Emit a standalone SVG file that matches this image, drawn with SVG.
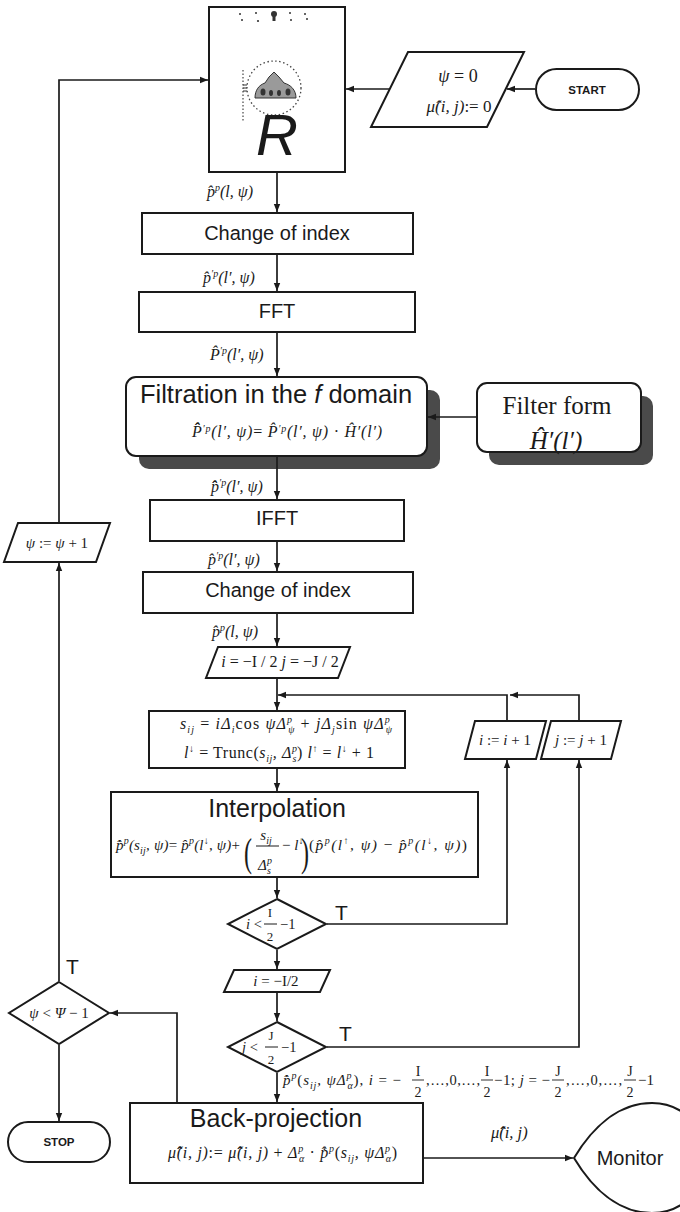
<svg xmlns="http://www.w3.org/2000/svg" width="680" height="1212" viewBox="0 0 680 1212">
<style>
  .bx { fill: #fff; stroke: #1a1a1a; stroke-width: 2; }
  .sh { fill: #4a4a4a; stroke: none; }
  .ln { fill: none; stroke: #1a1a1a; stroke-width: 1.7; }
  .s  { font-family: "Liberation Sans", Arial, sans-serif; fill: #1a1a1a; }
  .sb { font-family: "Liberation Sans", Arial, sans-serif; font-weight: bold; fill: #1a1a1a; }
  .m  { font-family: "Liberation Serif", "Times New Roman", serif; font-style: italic; fill: #1a1a1a; }
  .rm { font-family: "Liberation Serif", "Times New Roman", serif; font-style: normal; fill: #1a1a1a; }
  .up { font-style: normal; }
  .sm { font-size: 10px; }
</style>
<defs>
  <marker id="ah" markerWidth="9" markerHeight="8" refX="8" refY="4" orient="auto" markerUnits="userSpaceOnUse">
    <path d="M0,0.8 L8,4 L0,7.2 Z" fill="#1a1a1a"/>
  </marker>
</defs>
<rect width="680" height="1212" fill="#fff"/>

<!-- projection acquisition -->
<g id="scanner">
  <rect class="bx" x="209" y="7" width="136" height="165"/>
  <g fill="#333">
    <circle cx="240" cy="14" r="1"/><circle cx="242" cy="20" r="1"/>
    <circle cx="256" cy="13" r="1"/><circle cx="258" cy="21" r="1.1"/>
    <circle cx="290" cy="13" r="1"/><circle cx="291" cy="20" r="1"/>
    <circle cx="305" cy="14" r="1"/><circle cx="307" cy="19" r="1"/>
    <circle cx="274" cy="14" r="3"/><rect x="272.5" y="14" width="3" height="7"/>
  </g>
  <circle cx="274" cy="88" r="27" fill="none" stroke="#444" stroke-width="1.3" stroke-dasharray="1.5 2.5"/>
  <path d="M255,98 C255,90 259,85 265,83 L269,77 L274,72 L279,77 L284,83 C291,85 296,90 296,98 Z" fill="#9a9a9a" stroke="#333" stroke-width="1"/>
  <g fill="#333">
    <ellipse cx="263" cy="92" rx="2.5" ry="3.5"/><ellipse cx="271" cy="93" rx="2" ry="3"/>
    <ellipse cx="279" cy="93" rx="2" ry="3"/><ellipse cx="288" cy="92" rx="2.5" ry="3.5"/>
  </g>
  <line x1="243" y1="70" x2="243" y2="121" stroke="#444" stroke-width="1.2" stroke-dasharray="1.5 2"/>
  <path d="M243,85 h4 M243,88 h4 M243,91 h4" stroke="#333" stroke-width="1"/>
  <text class="s" x="277" y="155" font-size="58" font-style="italic" text-anchor="middle">R</text>
</g>

<g id="start">
  <rect class="bx" x="536" y="69" width="103" height="41" rx="20.5"/>
  <text class="sb" x="587" y="93.5" font-size="11.5" text-anchor="middle">START</text>
</g>

<g id="init">
  <polygon class="bx" points="408,52 524,52 487,127 371,127"/>
  <text class="m" x="458" y="82" font-size="18" text-anchor="middle">ψ <tspan class="up">= 0</tspan></text>
  <text class="m" x="459" y="112" font-size="17" text-anchor="middle">μ&#x302;(i, j)<tspan class="up">:= 0</tspan></text>
</g>

<g id="lbl-p">
  <text class="m" x="207" y="197" font-size="16">p&#x302;<tspan class="sm" dy="-6">p</tspan><tspan dy="6">(l, ψ)</tspan></text>
</g>

<g id="index1">
  <rect class="bx" x="142" y="213" width="271" height="41"/>
  <text class="s" x="277" y="240" font-size="20" text-anchor="middle">Change of index</text>
</g>

<g id="lbl-p2">
  <text class="m" x="203" y="283" font-size="16">p&#x302;<tspan class="sm" dy="-6">′p</tspan><tspan dy="6">(l′, ψ)</tspan></text>
</g>

<g id="fft">
  <rect class="bx" x="139" y="292" width="276" height="40"/>
  <text class="s" x="277" y="318" font-size="20" text-anchor="middle">FFT</text>
</g>

<g id="lbl-P">
  <text class="m" x="210" y="360" font-size="16">P&#x302;<tspan class="sm" dy="-6">′p</tspan><tspan dy="6">(l′, ψ)</tspan></text>
</g>

<g id="filtration">
  <rect class="sh" x="139" y="390" width="301" height="79" rx="10"/>
  <rect class="bx" x="126" y="377" width="301" height="79" rx="10"/>
  <text class="s" x="276" y="403" font-size="25.5" text-anchor="middle">Filtration in the <tspan font-style="italic">f</tspan> domain</text>
  <text class="m" x="287" y="437" font-size="16" text-anchor="middle" textLength="190" lengthAdjust="spacing">P&#x302;&#x302;<tspan class="sm" dy="-5">′p</tspan><tspan dy="5">(l′, ψ)</tspan><tspan class="up">= </tspan>P&#x302;<tspan class="sm" dy="-5">′p</tspan><tspan dy="5">(l′, ψ)</tspan><tspan class="up"> · </tspan>H&#x302;′(l′)</text>
</g>

<g id="filter-form">
  <rect class="sh" x="489" y="396" width="164" height="69" rx="10"/>
  <rect class="bx" x="477" y="383" width="164" height="69" rx="10"/>
  <text class="rm" x="557" y="414" font-size="25" text-anchor="middle">Filter form</text>
  <text class="m" x="556" y="449" font-size="25" text-anchor="middle">H&#x302;′(l′)</text>
</g>

<g id="lbl-pf">
  <text class="m" x="211" y="492" font-size="16">p&#x302;&#x302;<tspan class="sm" dy="-6">′p</tspan><tspan dy="6">(l′, ψ)</tspan></text>
</g>

<g id="ifft">
  <rect class="bx" x="150" y="500" width="254" height="41"/>
  <text class="s" x="277" y="525" font-size="20" text-anchor="middle">IFFT</text>
</g>

<g id="lbl-pf2">
  <text class="m" x="208" y="565" font-size="16">p&#x302;<tspan class="sm" dy="-6">′p</tspan><tspan dy="6">(l′, ψ)</tspan></text>
</g>

<g id="index2">
  <rect class="bx" x="143" y="572" width="270" height="41"/>
  <text class="s" x="278" y="597" font-size="20" text-anchor="middle">Change of index</text>
</g>

<g id="lbl-pf3">
  <text class="m" x="212" y="637" font-size="16">p&#x302;<tspan class="sm" dy="-6">p</tspan><tspan dy="6">(l, ψ)</tspan></text>
</g>

<g id="init-ij">
  <polygon class="bx" points="218,647 350,647 338,678 206,678"/>
  <text class="m" x="280" y="667" font-size="16" text-anchor="middle">i <tspan class="up">= −I / 2</tspan>  j <tspan class="up">= −J / 2</tspan></text>
</g>

<g id="coords">
  <rect class="bx" x="149" y="711" width="256" height="57"/>
  <text class="m" x="286" y="729" font-size="16" text-anchor="middle" textLength="212" lengthAdjust="spacing">s<tspan class="sm" dy="4">ij</tspan><tspan dy="-4"> <tspan class="up">=</tspan> iΔ</tspan><tspan class="sm" dy="4">i</tspan><tspan class="up" dy="-4">cos </tspan>ψΔ<tspan class="sm" dy="-6">p</tspan><tspan class="sm" dx="-5" dy="10">ψ</tspan><tspan dy="-4"> <tspan class="up">+</tspan> jΔ</tspan><tspan class="sm" dy="4">j</tspan><tspan class="up" dy="-4">sin </tspan>ψΔ<tspan class="sm" dy="-6">p</tspan><tspan class="sm" dx="-5" dy="10">ψ</tspan></text>
  <text class="m" x="279" y="758" font-size="16" text-anchor="middle" textLength="190" lengthAdjust="spacing">l<tspan class="sm" dy="-6">↓</tspan><tspan class="up" dy="6"> = Trunc</tspan><tspan class="up">(</tspan>s<tspan class="sm" dy="4">ij</tspan><tspan dy="-4">, Δ</tspan><tspan class="sm" dy="-6">p</tspan><tspan class="sm" dx="-5" dy="10">s</tspan><tspan class="up" dy="-4">)</tspan>     l<tspan class="sm" dy="-6">↑</tspan><tspan class="up" dy="6"> = </tspan>l<tspan class="sm" dy="-6">↓</tspan><tspan class="up" dy="6"> + 1</tspan></text>
</g>

<g id="interpolation">
  <rect class="bx" x="111" y="792" width="367" height="85"/>
  <text class="s" x="277" y="817" font-size="25" text-anchor="middle">Interpolation</text>
  <text class="m" x="116" y="850" font-size="15" textLength="124" lengthAdjust="spacing">p&#x302;&#x307;<tspan class="sm" dy="-6">p</tspan><tspan dy="6">(s</tspan><tspan class="sm" dy="4">ij</tspan><tspan dy="-4">, ψ)</tspan><tspan class="up">= </tspan>p&#x302;<tspan class="sm" dy="-6">p</tspan><tspan dy="6">(l</tspan><tspan class="sm" dy="-6">↓</tspan><tspan dy="6">, ψ)</tspan><tspan class="up">+</tspan></text>
  <text class="rm" x="244" y="866" font-size="40" transform="translate(244 866) scale(0.6 1) translate(-244 -866)">(</text>
  <text class="m" x="266" y="840" font-size="15" text-anchor="middle">s<tspan class="sm" dy="4">ij</tspan></text>
  <line x1="256" y1="846" x2="279" y2="846" stroke="#1a1a1a" stroke-width="1"/>
  <text class="m" x="265" y="870" font-size="15" text-anchor="middle">Δ<tspan class="sm" dy="-6">p</tspan><tspan class="sm" dx="-5" dy="10">s</tspan></text>
  <text class="m" x="282" y="850" font-size="15"><tspan class="up">−</tspan> l<tspan class="sm" dy="-6">↓</tspan></text>
  <text class="rm" x="301" y="866" font-size="40" transform="translate(301 866) scale(0.6 1) translate(-301 -866)">)</text>
  <text class="m" x="309" y="850" font-size="15.5" textLength="158" lengthAdjust="spacing"><tspan class="up">(</tspan>p&#x302;<tspan class="sm" dy="-6">p</tspan><tspan dy="6">(l</tspan><tspan class="sm" dy="-6">↑</tspan><tspan dy="6">, ψ)</tspan><tspan class="up"> − </tspan>p&#x302;<tspan class="sm" dy="-6">p</tspan><tspan dy="6">(l</tspan><tspan class="sm" dy="-6">↓</tspan><tspan dy="6">, ψ)</tspan><tspan class="up">)</tspan></text>
</g>

<g id="test-i">
  <polygon class="bx" points="277,899 326,924 277,949 228,924"/>
  <text class="m" x="246" y="929" font-size="14.5">i <tspan class="up">&lt;</tspan></text>
  <text class="rm" x="270" y="917" font-size="13" text-anchor="middle">I</text>
  <line x1="264" y1="924" x2="277" y2="924" stroke="#1a1a1a" stroke-width="1"/>
  <text class="rm" x="270" y="941" font-size="13" text-anchor="middle">2</text>
  <text class="rm" x="280" y="929" font-size="14.5">−1</text>
  <text class="s" x="335" y="920" font-size="21">T</text>
</g>

<g id="inc-i">
  <polygon class="bx" points="475,721 546,721 536,759 465,759"/>
  <text class="m" x="505" y="745" font-size="15" text-anchor="middle">i <tspan class="up">:= </tspan>i <tspan class="up">+ 1</tspan></text>
</g>

<g id="inc-j">
  <polygon class="bx" points="551,721 621,721 611,759 541,759"/>
  <text class="m" x="581" y="745" font-size="15" text-anchor="middle">j <tspan class="up">:= </tspan>j <tspan class="up">+ 1</tspan></text>
</g>

<g id="reset-i">
  <polygon class="bx" points="234,970 330,970 320,992 224,992"/>
  <text class="m" x="276" y="986" font-size="15" text-anchor="middle">i <tspan class="up">= −I/2</tspan></text>
</g>

<g id="test-j">
  <polygon class="bx" points="277,1022 326,1047 277,1072 228,1047"/>
  <text class="m" x="242" y="1052" font-size="14.5">j <tspan class="up">&lt;</tspan></text>
  <text class="rm" x="271" y="1040" font-size="13" text-anchor="middle">J</text>
  <line x1="265" y1="1047" x2="278" y2="1047" stroke="#1a1a1a" stroke-width="1"/>
  <text class="rm" x="271" y="1064" font-size="13" text-anchor="middle">2</text>
  <text class="rm" x="281" y="1052" font-size="14.5">−1</text>
  <text class="s" x="339" y="1041" font-size="21">T</text>
</g>

<g id="lbl-range">
  <text class="m" x="283" y="1085" font-size="15" textLength="118" lengthAdjust="spacing">p&#x302;&#x307;<tspan class="sm" dy="-6">p</tspan><tspan class="up" dy="6">(</tspan>s<tspan class="sm" dy="4">ij</tspan><tspan dy="-4">, ψΔ</tspan><tspan class="sm" dy="-6">p</tspan><tspan class="sm" dx="-5" dy="10">α</tspan><tspan class="up" dy="-4">),</tspan> i <tspan class="up">= −</tspan></text>
  <text class="rm" x="418" y="1076" font-size="14" text-anchor="middle">I</text>
  <line x1="412" y1="1080" x2="424" y2="1080" stroke="#1a1a1a" stroke-width="0.9"/>
  <text class="rm" x="418" y="1097" font-size="14" text-anchor="middle">2</text>
  <text class="rm" x="426" y="1085" font-size="14.5" textLength="54" lengthAdjust="spacing">,…,0,…,</text>
  <text class="rm" x="487" y="1076" font-size="14" text-anchor="middle">I</text>
  <line x1="481" y1="1080" x2="493" y2="1080" stroke="#1a1a1a" stroke-width="0.9"/>
  <text class="rm" x="487" y="1097" font-size="14" text-anchor="middle">2</text>
  <text class="m" x="494" y="1085" font-size="15" textLength="56" lengthAdjust="spacing"><tspan class="up">−1;</tspan> j <tspan class="up">= −</tspan></text>
  <text class="rm" x="558" y="1076" font-size="14" text-anchor="middle">J</text>
  <line x1="552" y1="1080" x2="564" y2="1080" stroke="#1a1a1a" stroke-width="0.9"/>
  <text class="rm" x="558" y="1097" font-size="14" text-anchor="middle">2</text>
  <text class="rm" x="566" y="1085" font-size="14.5" textLength="56" lengthAdjust="spacing">,…,0,…,</text>
  <text class="rm" x="630" y="1076" font-size="14" text-anchor="middle">J</text>
  <line x1="624" y1="1080" x2="636" y2="1080" stroke="#1a1a1a" stroke-width="0.9"/>
  <text class="rm" x="630" y="1097" font-size="14" text-anchor="middle">2</text>
  <text class="rm" x="638" y="1085" font-size="15">−1</text>
</g>

<g id="backprojection">
  <rect class="bx" x="130" y="1103" width="293" height="80"/>
  <text class="s" x="276" y="1127" font-size="25" text-anchor="middle">Back-projection</text>
  <text class="m" x="168" y="1158" font-size="16" textLength="229" lengthAdjust="spacing">μ&#x302;&#x302;(i, j)<tspan class="up">:= </tspan>μ&#x302;&#x302;(i, j)<tspan class="up"> + </tspan>Δ<tspan class="sm" dy="-6">p</tspan><tspan class="sm" dx="-5" dy="10">α</tspan><tspan class="up" dy="-4"> · </tspan>p&#x302;&#x307;<tspan class="sm" dy="-6">p</tspan><tspan class="up" dy="6">(</tspan>s<tspan class="sm" dy="4">ij</tspan><tspan dy="-4">, ψΔ</tspan><tspan class="sm" dy="-6">p</tspan><tspan class="sm" dx="-5" dy="10">α</tspan><tspan class="up" dy="-4">)</tspan></text>
</g>

<g id="lbl-mu">
  <text class="m" x="491" y="1138" font-size="16.5">μ&#x302;&#x302;(i, j)</text>
</g>

<g id="monitor">
  <path class="bx" d="M574,1158 C592,1128 618,1103 652,1103 A55,55 0 0 1 652,1213 C618,1213 592,1188 574,1158 Z"/>
  <text class="s" x="630" y="1165" font-size="20" text-anchor="middle">Monitor</text>
</g>

<g id="inc-psi">
  <polygon class="bx" points="18,523 110,523 96,562 4,562"/>
  <text class="m" x="57" y="548" font-size="15" text-anchor="middle">ψ <tspan class="up">:= </tspan>ψ <tspan class="up">+ 1</tspan></text>
</g>

<g id="test-psi">
  <polygon class="bx" points="59,982 109,1013 59,1044 9,1013"/>
  <text class="m" x="59" y="1018" font-size="15" text-anchor="middle">ψ <tspan class="up">&lt; </tspan>Ψ <tspan class="up">− 1</tspan></text>
  <text class="s" x="66" y="974" font-size="21">T</text>
</g>

<g id="stop">
  <rect class="bx" x="8" y="1122" width="102" height="40" rx="20"/>
  <text class="sb" x="59" y="1146" font-size="11.5" text-anchor="middle">STOP</text>
</g>

<!-- connectors, drawn last so the arrowheads sit on top of the shadows -->
<g id="connectors" class="ln">
  <path d="M277,173 V212" marker-end="url(#ah)"/>
  <path d="M277,255 V291" marker-end="url(#ah)"/>
  <path d="M277,333 V376" marker-end="url(#ah)"/>
  <path d="M476,417 H428" marker-end="url(#ah)"/>
  <path d="M277,457 V499" marker-end="url(#ah)"/>
  <path d="M277,542 V571" marker-end="url(#ah)"/>
  <path d="M277,614 V646" marker-end="url(#ah)"/>
  <path d="M277,679 V710" marker-end="url(#ah)"/>
  <path d="M579,720 V695 H510" marker-end="url(#ah)"/>
  <path d="M507,720 V695 H278" marker-end="url(#ah)"/>
  <path d="M277,769 V791" marker-end="url(#ah)"/>
  <path d="M277,878 V898" marker-end="url(#ah)"/>
  <path d="M327,924 H507 V760" marker-end="url(#ah)"/>
  <path d="M277,950 V969" marker-end="url(#ah)"/>
  <path d="M277,993 V1021" marker-end="url(#ah)"/>
  <path d="M327,1047 H579 V760" marker-end="url(#ah)"/>
  <path d="M277,1073 V1102" marker-end="url(#ah)"/>
  <path d="M177,1102 V1013 H110" marker-end="url(#ah)"/>
  <path d="M59,981 V563" marker-end="url(#ah)"/>
  <path d="M59,522 V80 H208" marker-end="url(#ah)"/>
  <path d="M59,1045 V1121" marker-end="url(#ah)"/>
  <path d="M535,89 H507" marker-end="url(#ah)"/>
  <path d="M389,89 H346" marker-end="url(#ah)"/>
  <path d="M424,1158 H573" marker-end="url(#ah)"/>
</g>
</svg>
